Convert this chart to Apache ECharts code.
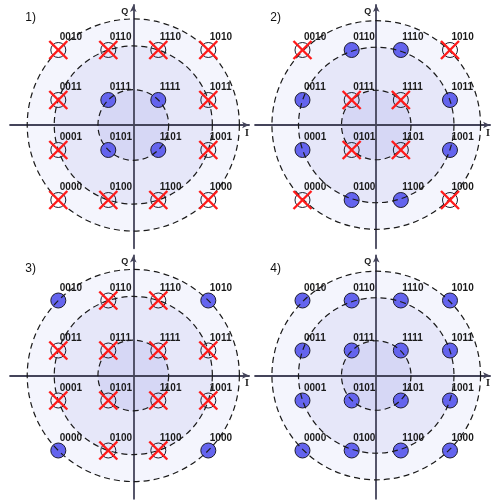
<!DOCTYPE html>
<html>
<head>
<meta charset="utf-8">
<script src="https://cdn.jsdelivr.net/npm/echarts@6/dist/echarts.min.js"></script>
<style>html,body{margin:0;padding:0;background:#fff}#c{width:491px;height:502px}</style>
</head>
<body>
<div id="c"></div>
<script>
// 16-QAM constellation (Gray coded), row by row from top
const symbolCodes = ['0010','0110','1110','1010',
                     '0011','0111','1111','1011',
                     '0001','0101','1101','1001',
                     '0000','0100','1100','1000'];
const symbolI = [-3,-1,1,3, -3,-1,1,3, -3,-1,1,3, -3,-1,1,3];
const symbolQ = [3,3,3,3, 1,1,1,1, -1,-1,-1,-1, -3,-3,-3,-3];
// amplitude rings (radii in constellation units)
const ringRadii = [4.243, 3.162, 1.414];
const ringFills = ['#f4f5fd', '#e6e7f9', '#d6d7f5'];
// which symbols are still allowed in each panel
const panelTitles = ['1)', '2)', '3)', '4)'];
const activePanel1 = ['0111','1111','0101','1101'];
const activePanel2 = ['0110','1110','0011','1011','0001','1001','0100','1100'];
const activePanel3 = ['0010','1010','0000','1000'];
const activePanel4 = symbolCodes.slice();
const activeSets = [activePanel1, activePanel2, activePanel3, activePanel4];
const axisNames = ['I', 'Q'];

const chart = echarts.init(document.getElementById('c'), null, {renderer: 'canvas'});
const S = 25; // px per unit
const centers = [[133.3,125],[378.3,125],[133.3,375.5],[378.3,375.5]];
const xMin = -4.93, xMax = 4.63, yMin = -4.93, yMax = 4.8;

const grids = [], xAxes = [], yAxes = [], series = [], titles = [];
const axisColor = '#44445a';

centers.forEach((c, k) => {
  grids.push({left: c[0] + xMin*S, top: c[1] - yMax*S, width: (xMax-xMin)*S, height: (yMax-yMin)*S});
  xAxes.push({gridIndex:k, type:'value', min:xMin, max:xMax, z:2,
    axisLine:{show:true, onZero:true, symbol:['none','arrow'], symbolSize:[5,7], lineStyle:{color:axisColor, width:1.8}},
    axisTick:{show:false}, axisLabel:{show:false}, splitLine:{show:false},
    name: axisNames[0], nameLocation:'end', nameGap:-2,
    nameTextStyle:{fontFamily:'Liberation Serif', fontWeight:'bold', fontSize:10, color:'#222', align:'center', verticalAlign:'top', padding:[3,0,0,0]}});
  yAxes.push({gridIndex:k, type:'value', min:yMin, max:yMax, z:2,
    axisLine:{show:true, onZero:true, symbol:['none','arrow'], symbolSize:[5,7], lineStyle:{color:axisColor, width:1.8}},
    axisTick:{show:false}, axisLabel:{show:false}, splitLine:{show:false},
    name: axisNames[1], nameLocation:'end', nameGap:-2,
    nameTextStyle:{fontFamily:'Liberation Sans', fontWeight:'bold', fontSize:9, color:'#222', align:'right', verticalAlign:'top', padding:[0,5,0,0]}});
  titles.push({text: panelTitles[k], left: c[0]-113, top: c[1]-118,
    textStyle:{fontFamily:'Liberation Sans', fontSize:12, fontWeight:'normal', color:'#111'}});

  const active = activeSets[k];
  const pts = symbolCodes.map((code, i) => [symbolI[i], symbolQ[i], code]);
  const onPts = pts.filter(p => active.indexOf(p[2]) >= 0);
  const offPts = pts.filter(p => active.indexOf(p[2]) < 0);

  // shaded disks
  series.push({type:'custom', xAxisIndex:k, yAxisIndex:k, z:1, silent:true,
    data: ringRadii.map((r, j) => [0, 0, r, j]),
    renderItem: (params, api) => {
      const o = api.coord([0,0]);
      const r = api.size([api.value(2), 0])[0];
      return {type:'circle', shape:{cx:o[0], cy:o[1], r:r}, style:{fill: ringFills[api.value(3)]}};
    }});
  // active symbols
  series.push({type:'scatter', xAxisIndex:k, yAxisIndex:k, z:3, silent:true,
    symbol:'circle', symbolSize:15, data: onPts,
    itemStyle:{color:'#6464ee', borderColor:'#1c1c2c', borderWidth:1, opacity:1}});
  // suppressed symbols
  series.push({type:'scatter', xAxisIndex:k, yAxisIndex:k, z:3, silent:true,
    symbol:'circle', symbolSize:15, data: offPts,
    itemStyle:{color:'rgba(0,0,0,0)', borderColor:'#1c1c2c', borderWidth:1, opacity:1}});
  // dashed amplitude rings (drawn over the symbols)
  series.push({type:'custom', xAxisIndex:k, yAxisIndex:k, z:4, silent:true,
    data: ringRadii.map(r => [0, 0, r]),
    renderItem: (params, api) => {
      const o = api.coord([0,0]);
      const r = api.size([api.value(2), 0])[0];
      return {type:'circle', shape:{cx:o[0], cy:o[1], r:r},
        style:{fill:'none', stroke:'#1a1a1a', lineWidth:1.2, lineDash:[6,4]}};
    }});
  // red crosses on suppressed symbols
  series.push({type:'custom', xAxisIndex:k, yAxisIndex:k, z:5, silent:true,
    data: offPts,
    renderItem: (params, api) => {
      const p = api.coord([api.value(0), api.value(1)]);
      const d = 9;
      const st = {stroke:'#ff1a1a', lineWidth:2.4};
      return {type:'group', children:[
        {type:'line', shape:{x1:p[0]-d, y1:p[1]-d, x2:p[0]+d, y2:p[1]+d}, style:st},
        {type:'line', shape:{x1:p[0]-d, y1:p[1]+d, x2:p[0]+d, y2:p[1]-d}, style:st}
      ]};
    }});
  // code labels
  series.push({type:'custom', xAxisIndex:k, yAxisIndex:k, z:6, silent:true,
    data: pts,
    renderItem: (params, api) => {
      const p = api.coord([api.value(0), api.value(1)]);
      return {type:'text', x:p[0]+1.5, y:p[1]-17.5,
        style:{text: pts[params.dataIndex][2], font:'bold 10px "Liberation Sans"', fill:'#1a1a1a', align:'left', verticalAlign:'top'}};
    }});
});

chart.setOption({animation:false, backgroundColor:'#ffffff', title:titles, grid:grids, xAxis:xAxes, yAxis:yAxes, series:series});
</script>
</body>
</html>
